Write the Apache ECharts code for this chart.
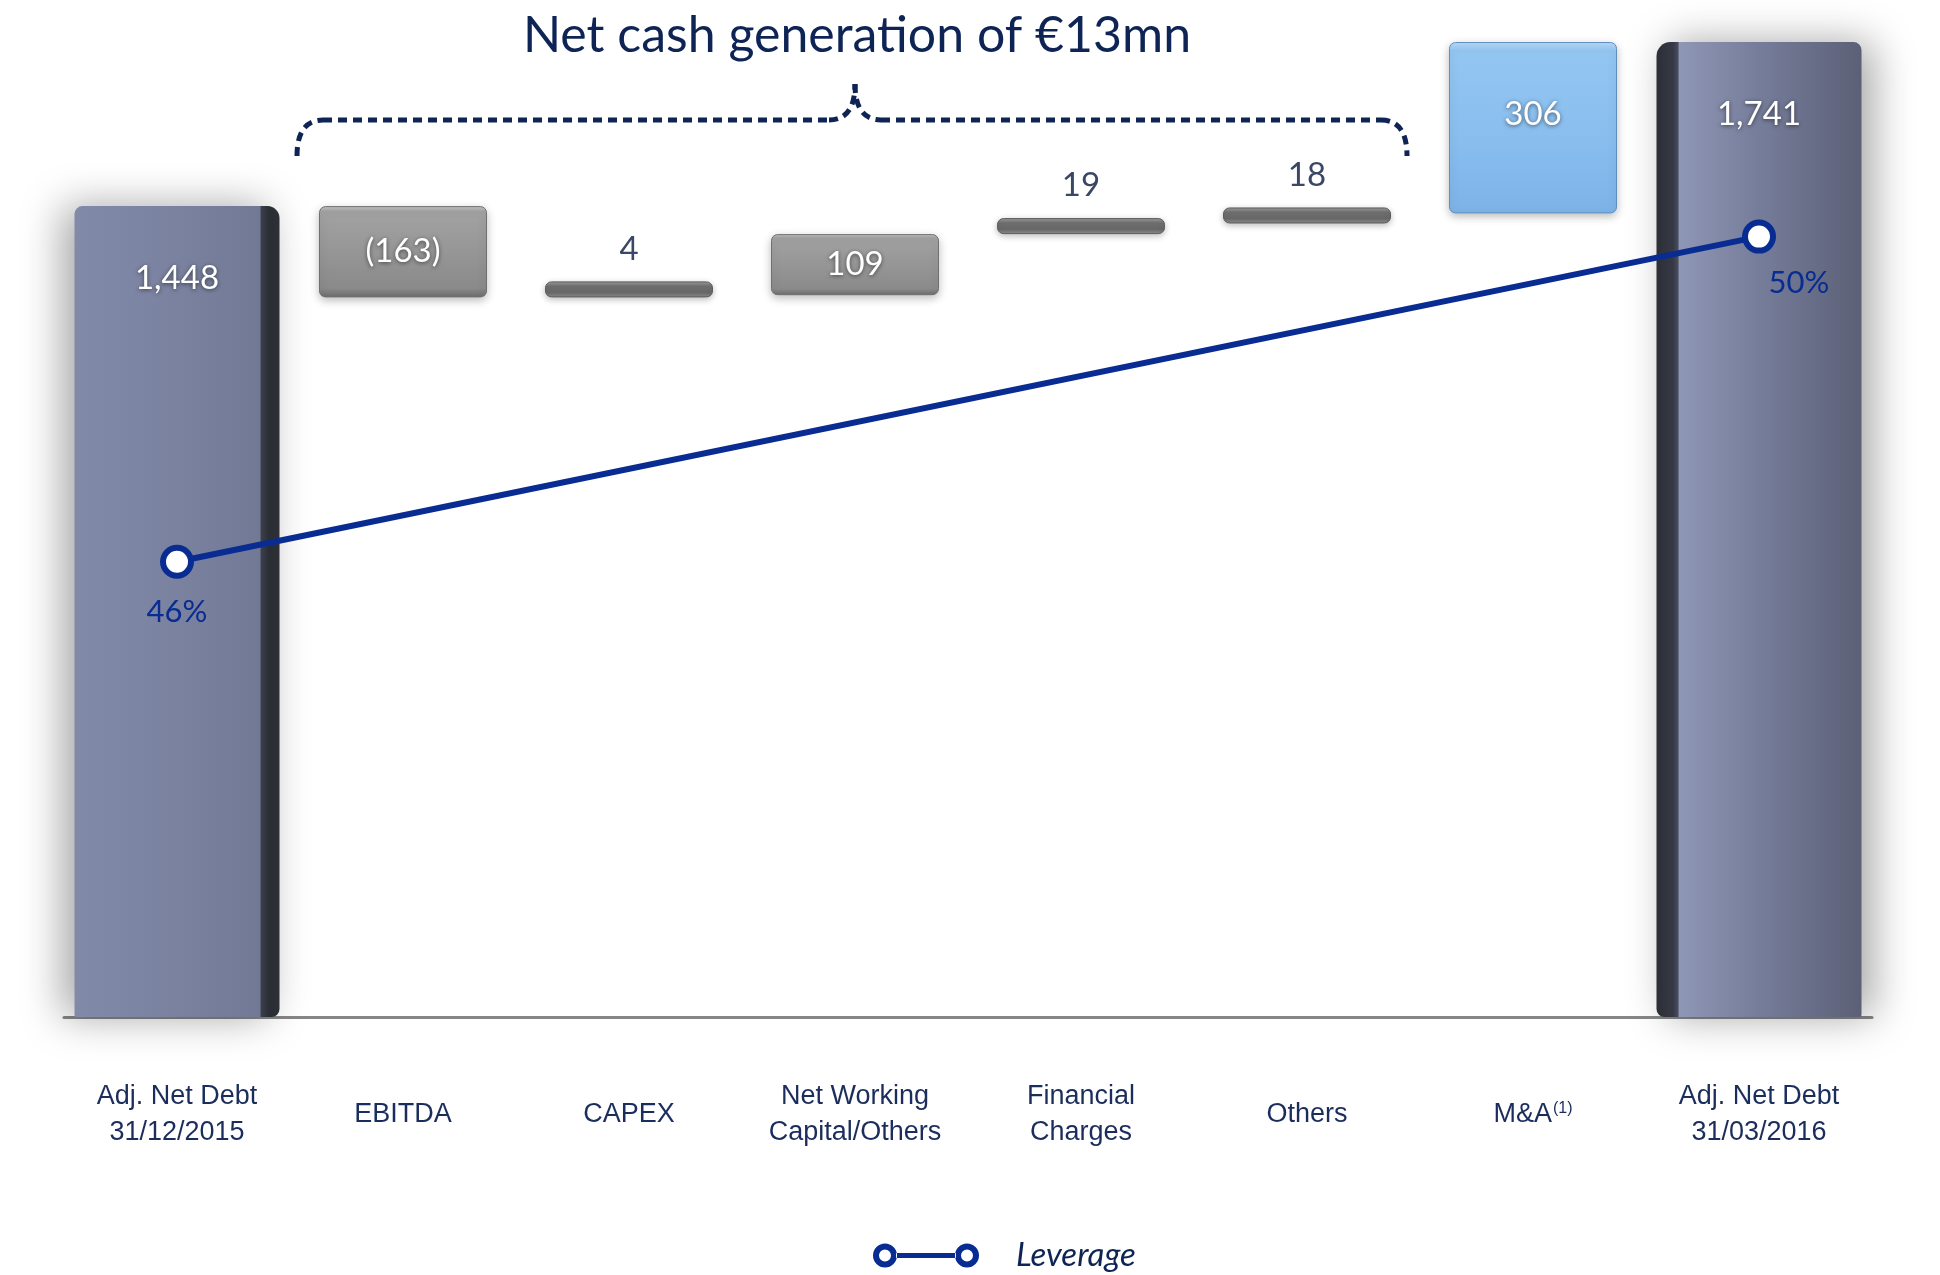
<!DOCTYPE html>
<html>
<head>
<meta charset="utf-8">
<script src="https://cdn.jsdelivr.net/npm/echarts@6/dist/echarts.min.js"></script>
<style>
html,body{margin:0;padding:0;background:#ffffff;}
#chart{width:1940px;height:1275px;}
</style>
</head>
<body>
<div id="chart"></div>
<script>
// ---------------- DATA ----------------
const categories = ['Adj. Net Debt\n31/12/2015', 'EBITDA', 'CAPEX', 'Net Working\nCapital/Others', 'Financial\nCharges', 'Others', 'M&A(1)', 'Adj. Net Debt\n31/03/2016'];
const openingDebt = 1448;
const movements = [-163, 4, 109, 19, 18, 306];
const closingDebt = 1741;
const movementLabels = ['(163)', '4', '109', '19', '18', '306'];
const totalLabels = ['1,448', '1,741'];
const leverage = [46, 50];
const leverageLabels = ['46%', '50%'];
const titleText = 'Net cash generation of \u20AC13mn';
const legendName = 'Leverage';

// ---------------- STYLES ----------------
const NAVY = '#0d2455';
const LEV = '#082c92';
const kindOf = { 'EBITDA': 'box', 'CAPEX': 'slab', 'Net Working\nCapital/Others': 'box', 'Financial\nCharges': 'slab', 'Others': 'slab', 'M&A(1)': 'blue' };

function grad(stops, horiz) {
  return { type: 'linear', x: 0, y: 0, x2: horiz ? 1 : 0, y2: horiz ? 0 : 1,
    colorStops: stops.map(s => ({ offset: s[0], color: s[1] })) };
}
const boxStyle = {
  color: grad([[0, '#c4c4c4'], [0.06, '#a2a2a2'], [0.5, '#969696'], [0.9, '#8a8a8a'], [1, '#6c6c6c']]),
  borderColor: '#707070', borderWidth: 1, borderRadius: 6,
  shadowColor: 'rgba(0,0,0,0.25)', shadowBlur: 8, shadowOffsetY: 3
};
const slabStyle = {
  color: grad([[0, '#a0a0a0'], [0.3, '#707070'], [0.7, '#686868'], [1, '#909090']]),
  borderColor: '#5a5a5a', borderWidth: 1, borderRadius: 6,
  shadowColor: 'rgba(0,0,0,0.25)', shadowBlur: 6, shadowOffsetY: 2
};
const blueStyle = {
  color: grad([[0, '#b9dcfa'], [0.05, '#94c6f2'], [0.6, '#88bdee'], [1, '#7cb3e7']]),
  borderColor: '#5f8fc0', borderWidth: 1, borderRadius: 6,
  shadowColor: 'rgba(0,0,0,0.25)', shadowBlur: 8, shadowOffsetY: 3
};
const whiteLabel = {
  color: '#ffffff', fontFamily: 'Lato', fontSize: 33,
  textShadowColor: 'rgba(0,0,0,0.55)', textShadowBlur: 4, textShadowOffsetY: 1
};

// ---------------- BUILD WATERFALL ----------------
let running = openingDebt;
const baseData = [null];
const changeData = [null];
movements.forEach((m, i) => {
  const cat = categories[i + 1];
  const kind = kindOf[cat];
  const start = m < 0 ? running + m : running;
  running += m;
  baseData.push(start);
  const item = { value: Math.abs(m) };
  if (kind === 'box') {
    item.itemStyle = boxStyle;
    item.label = Object.assign({ show: true, position: 'inside', formatter: movementLabels[i] }, whiteLabel);
  } else if (kind === 'blue') {
    item.itemStyle = blueStyle;
    item.label = Object.assign({ show: true, position: 'insideTop', distance: 56, formatter: movementLabels[i] }, whiteLabel);
  } else {
    item.itemStyle = slabStyle;
    item.label = { show: true, position: 'top', distance: 16, formatter: movementLabels[i],
      color: '#3b4766', fontFamily: 'Lato', fontSize: 33 };
  }
  changeData.push(item);
});
baseData.push(null);
changeData.push(null);

const totalData = categories.map(() => null);
totalData[0] = {
  value: openingDebt,
  itemStyle: {
    color: grad([[0, '#828aaa'], [0.5, '#7a82a0'], [0.905, '#717995'], [0.91, '#3c3f4b'], [0.95, '#2b2d34'], [1, '#2e3037']], true),
    borderRadius: [8, 12, 8, 2],
    shadowColor: 'rgba(0,0,0,0.35)', shadowBlur: 40, shadowOffsetX: -12, shadowOffsetY: 0
  },
  label: Object.assign({ show: true, position: 'insideTop', distance: 56, formatter: totalLabels[0] }, whiteLabel)
};
totalData[categories.length - 1] = {
  value: closingDebt,
  itemStyle: {
    color: grad([[0, '#2c2e36'], [0.08, '#363945'], [0.105, '#474b5c'], [0.11, '#8f97b6'], [0.5, '#767d9a'], [1, '#5b6076']], true),
    borderRadius: [14, 8, 2, 8],
    shadowColor: 'rgba(0,0,0,0.35)', shadowBlur: 40, shadowOffsetX: 12, shadowOffsetY: 0
  },
  label: Object.assign({ show: true, position: 'insideTop', distance: 56, formatter: totalLabels[1] }, whiteLabel)
};

const levData = categories.map(() => null);
levData[0] = { value: leverage[0], label: { show: true, position: 'bottom', distance: 18, formatter: leverageLabels[0] } };
levData[categories.length - 1] = { value: leverage[1], label: { show: true, position: 'bottom', distance: 14, offset: [40, 0], formatter: leverageLabels[1] } };

// ---------------- CHART ----------------
const chart = echarts.init(document.getElementById('chart'), null, { renderer: 'canvas' });

const option = {
  backgroundColor: '#ffffff',
  animation: false,
  title: {
    text: titleText, left: 852, top: 6, textAlign: 'center',
    textStyle: { fontFamily: 'Lato', fontSize: 50, fontWeight: 'normal', color: NAVY }
  },
  legend: {
    data: [{ name: legendName, itemStyle: { color: LEV, borderWidth: 0 },
      icon: 'path://M0,12 a12,12 0 1,0 24,0 a12,12 0 1,0 -24,0 Z M6,12 a6,6 0 1,1 12,0 a6,6 0 1,1 -12,0 Z M23,9.5 L83,9.5 L83,14.5 L23,14.5 Z M82,12 a12,12 0 1,0 24,0 a12,12 0 1,0 -24,0 Z M88,12 a6,6 0 1,1 12,0 a6,6 0 1,1 -12,0 Z' }],
    left: 868, top: 1234, itemWidth: 106, itemHeight: 24,
    itemStyle: { color: LEV, borderWidth: 0 },
    textStyle: { fontFamily: 'Lato', fontStyle: 'italic', fontSize: 33, color: NAVY, padding: [0, 0, 0, 32] }
  },
  grid: { left: 64, right: 68, top: 9, bottom: 258, containLabel: false },
  xAxis: [
    {
      type: 'category', data: categories,
      axisLine: { show: true, lineStyle: { color: '#868686', width: 3 } },
      axisTick: { show: false },
      axisLabel: {
        interval: 0, margin: 98, verticalAlign: 'middle', color: '#1b2d5c',
        fontFamily: 'Liberation Sans', fontSize: 27, lineHeight: 36,
        formatter: v => v === 'M&A(1)' ? '{m|M&A}{s|(1)}' : v,
        rich: {
          m: { fontFamily: 'Liberation Sans', fontSize: 27, color: '#1b2d5c' },
          s: { fontFamily: 'Liberation Sans', fontSize: 16, color: '#1b2d5c', padding: [0, 0, 12, 1] }
        }
      }
    },
    { type: 'category', data: categories, show: false }
  ],
  yAxis: [
    { type: 'value', min: 0, max: 1800, show: false, splitLine: { show: false } },
    { type: 'value', min: 40.4, max: 52.8, show: false, splitLine: { show: false } }
  ],
  series: [
    {
      name: 'base', type: 'bar', stack: 'wf', xAxisIndex: 0, yAxisIndex: 0, barWidth: 168,
      itemStyle: { color: 'rgba(0,0,0,0)' }, emphasis: { disabled: true }, silent: true,
      data: baseData
    },
    {
      name: 'change', type: 'bar', stack: 'wf', xAxisIndex: 0, yAxisIndex: 0, barWidth: 168,
      barMinHeight: 16, data: changeData
    },
    {
      name: 'total', type: 'bar', xAxisIndex: 1, yAxisIndex: 0, barWidth: 205, data: totalData
    },
    {
      name: legendName, type: 'line', xAxisIndex: 0, yAxisIndex: 1, connectNulls: true,
      symbol: 'circle', symbolSize: 28, z: 5,
      lineStyle: { color: LEV, width: 6 },
      itemStyle: { color: '#ffffff', borderColor: LEV, borderWidth: 6 },
      label: { color: LEV, fontFamily: 'Lato', fontSize: 31 },
      data: levData
    }
  ]
};
chart.setOption(option);

// dotted brace above the movement categories
const xStart = chart.convertToPixel({ xAxisIndex: 0 }, categories[1]) - 106;
const xEnd = chart.convertToPixel({ xAxisIndex: 0 }, categories[5]) + 100;
const xMid = chart.convertToPixel({ xAxisIndex: 0 }, categories[3]);
const braceStyle = { fill: null, stroke: NAVY, lineWidth: 5, lineDash: [9, 6] };
const yH = 120, yEnd = 156, yPeak = 84;
chart.setOption({
  graphic: [
    { type: 'bezierCurve', silent: true, shape: { x1: xStart, y1: yEnd, cpx1: xStart, cpy1: yH, x2: xStart + 26, y2: yH }, style: braceStyle },
    { type: 'line', silent: true, shape: { x1: xStart + 26, y1: yH, x2: xMid - 26, y2: yH }, style: braceStyle },
    { type: 'bezierCurve', silent: true, shape: { x1: xMid - 26, y1: yH, cpx1: xMid, cpy1: yH, x2: xMid, y2: yPeak }, style: braceStyle },
    { type: 'bezierCurve', silent: true, shape: { x1: xMid, y1: yPeak, cpx1: xMid, cpy1: yH, x2: xMid + 26, y2: yH }, style: braceStyle },
    { type: 'line', silent: true, shape: { x1: xMid + 26, y1: yH, x2: xEnd - 26, y2: yH }, style: braceStyle },
    { type: 'bezierCurve', silent: true, shape: { x1: xEnd - 26, y1: yH, cpx1: xEnd, cpy1: yH, x2: xEnd, y2: yEnd }, style: braceStyle }
  ]
});
</script>
</body>
</html>
